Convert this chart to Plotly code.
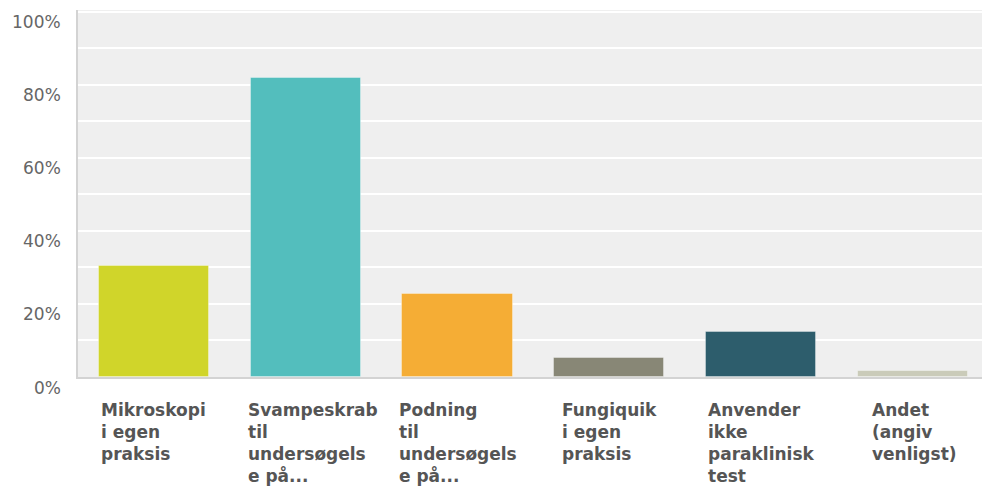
import plotly.graph_objects as go

categories = [
    "Mikroskopi<br>i egen<br>praksis",
    "Svampeskrab<br>til<br>undersøgels<br>e på...",
    "Podning<br>til<br>undersøgels<br>e på...",
    "Fungiquik<br>i egen<br>praksis",
    "Anvender<br>ikke<br>paraklinisk<br>test",
    "Andet<br>(angiv<br>venligst)",
]
values = [30.3, 81.9, 22.7, 5.3, 12.2, 1.7]
colors = ["#d0d52a", "#53bebd", "#f5ad35", "#888776", "#2d5d6c", "#cacbb9"]
y_ticks = [0, 20, 40, 60, 80, 100]
y_tick_labels = ["0%", "20%", "40%", "60%", "80%", "100%"]

x_idx = list(range(len(categories)))

fig = go.Figure()
fig.add_trace(go.Bar(
    x=x_idx,
    y=values,
    width=0.725,
    marker=dict(color=colors, line=dict(color="rgba(255,255,255,0.35)", width=1)),
    hoverinfo="skip",
))

annotations = []
label_shifts = [0, 7, 0, 0, 0, 2]
for i, lab in enumerate(categories):
    annotations.append(dict(
        x=i, xref="x", y=0, yref="paper",
        text=lab, showarrow=False, align="left",
        xanchor="center", yanchor="top", xshift=label_shifts[i], yshift=-21,
        font=dict(family="DejaVu Sans", size=17, color="#555555", weight="bold"),
    ))
for v, t in zip(y_ticks, y_tick_labels):
    annotations.append(dict(
        x=0, xref="paper", y=v, yref="y",
        text=t, showarrow=False, xanchor="right", yanchor="middle",
        xshift=-15, yshift=-10.5,
        font=dict(family="DejaVu Sans", size=17, color="#666666"),
    ))

fig.update_layout(
    width=982, height=490,
    margin=dict(l=78, r=0, t=10, b=113),
    paper_bgcolor="white",
    plot_bgcolor="#efefef",
    showlegend=False,
    bargap=0,
    annotations=annotations,
    xaxis=dict(
        range=[-0.5, 5.455], showticklabels=False, showgrid=False,
        zeroline=False, showline=True, linecolor="#d3d3d3", linewidth=2,
        fixedrange=True,
    ),
    yaxis=dict(
        range=[0, 100.41], tickvals=[10 * k for k in range(11)],
        showticklabels=False, showgrid=True, gridcolor="white", gridwidth=1.5,
        zeroline=False, showline=True, linecolor="#d3d3d3", linewidth=2,
        fixedrange=True,
    ),
)

fig.write_html("out.html")
